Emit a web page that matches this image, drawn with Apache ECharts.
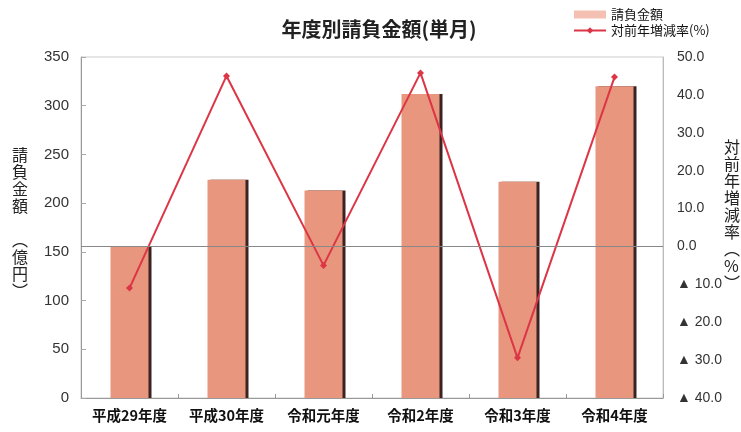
<!DOCTYPE html>
<html><head><meta charset="utf-8">
<script src="https://cdn.jsdelivr.net/npm/echarts@6/dist/echarts.min.js"></script>
<style>html,body{margin:0;padding:0;background:#fff}#c{width:741px;height:432px}</style>
</head><body><div id="c"></div>
<script>
const categories = ['平成29年度','平成30年度','令和元年度','令和2年度','令和3年度','令和4年度'];
const amount = [155, 224, 213, 312, 222, 320];
const rate = [-11.0, 45.0, -5.0, 45.8, -29.4, 44.7];
const leftTicks = {min: 0, max: 350, interval: 50};
const rightTicks = {min: -40, max: 50, interval: 10};

const chart = echarts.init(document.getElementById('c'));
const font = '"Noto Sans CJK JP", "Noto Sans", sans-serif';
chart.setOption({
  backgroundColor: '#fff',
  animation: false,
  textStyle: {fontFamily: font},
  title: {
    text: '年度別請負金額(単月)', left: 374, top: 14, textAlign: 'center',
    textStyle: {fontSize: 20, fontWeight: 'bold', color: '#222', fontFamily: font}
  },
  legend: {
    orient: 'vertical', left: 568, top: 3, itemGap: 3, itemWidth: 32, itemHeight: 8,
    textStyle: {fontSize: 13, color: '#111', fontFamily: font},
    data: [
      {name: '請負金額', icon: 'rect', itemStyle: {color: '#f4c0b2'}},
      {name: '対前年増減率(%)'}
    ]
  },
  grid: {left: 81, right: 78, top: 57, bottom: 34, show: true, borderColor: '#ccc', borderWidth: 1},
  xAxis: {
    type: 'category', data: categories,
    axisLine: {lineStyle: {color: '#999'}},
    axisTick: {show: true, length: 4, inside: true, lineStyle: {color: '#999'}},
    axisLabel: {interval: 0, fontSize: 14.5, fontWeight: 'bold', color: '#111', margin: 10, fontFamily: font}
  },
  yAxis: [
    {
      type: 'value', min: leftTicks.min, max: leftTicks.max, interval: leftTicks.interval,
      splitLine: {show: false},
      axisLine: {show: true, lineStyle: {color: '#999'}},
      axisTick: {show: true, inside: true, length: 5, lineStyle: {color: '#aaa'}},
      axisLabel: {fontSize: 15, color: '#333', margin: 12, fontFamily: 'Liberation Sans, sans-serif'}
    },
    {
      type: 'value', min: rightTicks.min, max: rightTicks.max, interval: rightTicks.interval,
      splitLine: {show: false},
      axisLine: {show: true, lineStyle: {color: '#bbb'}},
      axisTick: {show: false},
      axisLabel: {
        fontSize: 14, color: '#333', margin: 14, fontFamily: 'Liberation Sans, sans-serif',
        formatter: v => v < 0 ? '▲ ' + Math.abs(v).toFixed(1) : v.toFixed(1)
      }
    }
  ],
  graphic: [
    {type: 'text', left: 12, top: 146, style: {text: '請\n負\n金\n額\n\n︵\n億\n円\n︶', font: '16px "Noto Sans CJK JP"', fill: '#222', lineHeight: 17}},
    {type: 'text', left: 724, top: 138, style: {text: '対\n前\n年\n増\n減\n率\n︵\n%\n︶', font: '16px "Noto Sans CJK JP"', fill: '#222', lineHeight: 17}}
  ],
  series: [
    {
      name: '請負金額', type: 'bar', data: amount, barWidth: 38, yAxisIndex: 0,
      itemStyle: {color: '#e8967e', shadowColor: '#3b2323', shadowOffsetX: 3, shadowOffsetY: 0, shadowBlur: 0}
    },
    {
      name: '対前年増減率(%)', type: 'line', data: rate, yAxisIndex: 1,
      symbol: 'diamond', symbolSize: 7,
      lineStyle: {color: '#dc3545', width: 2},
      itemStyle: {color: '#dc3545'},
      markLine: {
        silent: true, symbol: 'none', label: {show: false},
        lineStyle: {color: '#888', type: 'solid', width: 1},
        data: [{yAxis: 0}]
      }
    }
  ]
});
</script>
</body></html>
